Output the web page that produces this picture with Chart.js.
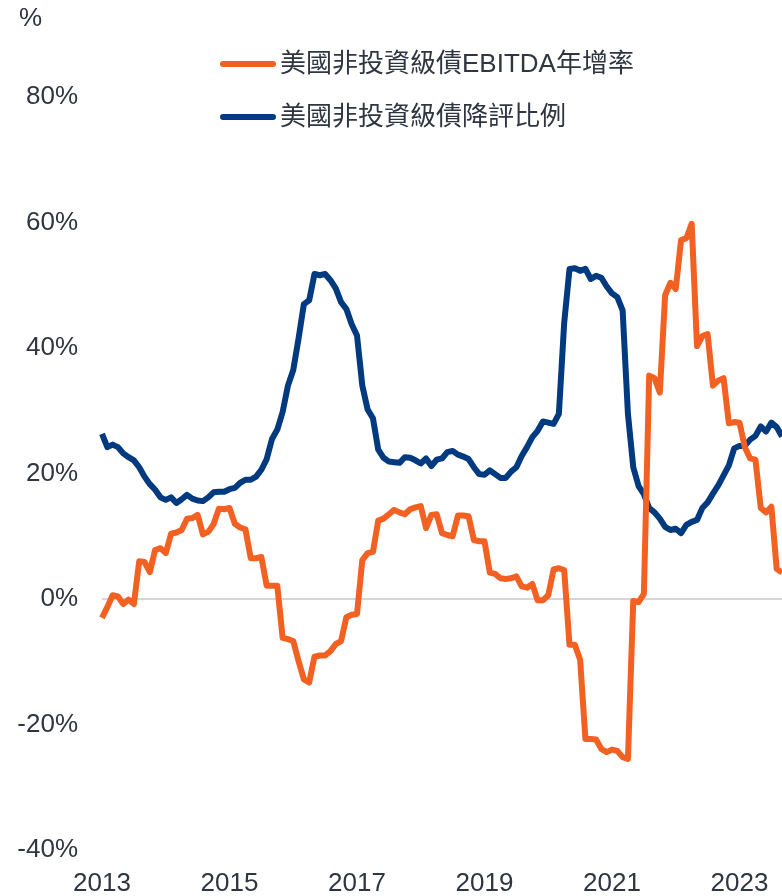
<!DOCTYPE html>
<html>
<head>
<meta charset="utf-8">
<script src="https://cdn.jsdelivr.net/npm/chart.js@4/dist/chart.umd.min.js"></script>
<style>
    html, body { margin: 0; padding: 0; background: #ffffff; }
    #wrap { width: 782px; height: 896px; }
</style>
</head>
<body>
<div id="wrap"><canvas id="ratioChart" width="782" height="896"></canvas></div>
<script>
// Monthly series, Jan 2013 - Sep 2023
const startYear = 2013;
const monthCount = 129;
const yearTicks = ['2013', '2015', '2017', '2019', '2021', '2023'];
const seriesNames = ['美國非投資級債EBITDA年增率', '美國非投資級債降評比例'];
const seriesColors = ['#f26122', '#023a80'];

const months = [];
for (let i = 0; i < monthCount; i++) {
    const y = startYear + Math.floor(i / 12);
    const m = (i % 12) + 1;
    months.push(y + '-' + (m < 10 ? '0' + m : m));
}

const ebitdaGrowth = [
    -3.0, -1.3, 0.6, 0.4, -0.8, -0.1, -0.8, 6.0, 5.9, 4.3, 7.8, 8.1,
    7.3, 10.4, 10.6, 11.0, 12.8, 12.9, 13.4, 10.3, 10.7, 11.9, 14.4, 14.3,
    14.5, 12.0, 11.4, 11.1, 6.5, 6.5, 6.7, 2.1, 2.1, 2.1, -6.2, -6.4,
    -6.7, -9.9, -12.8, -13.3, -9.2, -9.0, -9.0, -8.3, -7.2, -6.7, -2.9, -2.5,
    -2.4, 6.2, 7.3, 7.5, 12.5, 12.8, 13.5, 14.2, 13.8, 13.5, 14.3, 14.6,
    14.8, 11.3, 13.4, 13.5, 10.5, 10.2, 10.0, 13.3, 13.3, 13.2, 9.4, 9.2,
    9.2, 4.2, 4.0, 3.3, 3.2, 3.3, 3.6, 2.0, 1.8, 2.4, -0.2, -0.2,
    0.6, 4.7, 4.9, 4.6, -7.3, -7.3, -9.7, -22.3, -22.3, -22.4, -23.9, -24.4,
    -24.0, -24.2, -25.2, -25.5, -0.3, -0.5, 0.8, 35.6, 35.2, 32.9, 48.4, 50.4,
    49.4, 57.2, 57.5, 59.8, 40.3, 41.9, 42.2, 34.0, 34.8, 35.2, 28.0, 28.2,
    28.1, 24.2, 22.4, 22.2, 14.5, 13.8, 14.7, 4.8, 4.2
];

const downgradeRatio = [
    26.3, 24.2, 24.6, 24.2, 23.2, 22.6, 22.1, 21.0, 19.5, 18.3, 17.4, 16.2,
    15.8, 16.2, 15.3, 15.9, 16.6, 16.0, 15.7, 15.6, 16.2, 17.0, 17.1, 17.1,
    17.5, 17.7, 18.5, 19.0, 19.0, 19.5, 20.6, 22.3, 25.5, 27.0, 29.8, 34.0,
    36.5, 41.5, 47.0, 47.6, 51.8, 51.6, 51.8, 50.8, 49.5, 47.3, 46.2, 43.8,
    42.0, 34.0, 30.2, 28.8, 23.8, 22.5, 21.9, 21.8, 21.7, 22.6, 22.5, 22.1,
    21.6, 22.4, 21.2, 22.2, 22.4, 23.4, 23.6, 23.0, 22.7, 22.3, 21.0, 19.9,
    19.8, 20.5, 19.9, 19.3, 19.3, 20.3, 21.0, 22.8, 24.2, 25.8, 26.8, 28.3,
    28.1, 27.9, 29.5, 44.0, 52.6, 52.7, 52.3, 52.6, 51.0, 51.5, 51.2, 49.8,
    48.7, 48.1, 46.0, 29.5, 21.0, 18.0, 16.7, 14.5, 13.8, 12.8, 11.5, 11.0,
    11.2, 10.5, 11.8, 12.3, 12.6, 14.5, 15.4, 16.8, 18.1, 19.7, 21.3, 24.0,
    24.4, 24.4, 25.4, 26.0, 27.5, 26.7, 28.1, 27.4, 25.9
];

const textColor = '#2f3541';
const fontFamily = '"Liberation Sans", Arial, "Noto Sans CJK TC", sans-serif';

Chart.defaults.font.family = fontFamily;
Chart.defaults.font.size = 26;
Chart.defaults.color = textColor;

// "%" unit label and the two-row legend drawn straight on the canvas
const chartDecor = {
    id: 'chartDecor',
    afterDraw(chart) {
        const ctx = chart.ctx;
        ctx.save();
        ctx.font = '26px ' + fontFamily;
        ctx.fillStyle = textColor;
        ctx.textBaseline = 'middle';
        ctx.textAlign = 'left';
        ctx.fillText('%', 19, 19);

        const rows = [64, 117];
        chart.data.datasets.forEach((ds, i) => {
            const y = rows[i];
            ctx.strokeStyle = ds.borderColor;
            ctx.lineWidth = 6;
            ctx.lineCap = 'round';
            ctx.beginPath();
            ctx.moveTo(223, y);
            ctx.lineTo(273, y);
            ctx.stroke();
            ctx.fillStyle = textColor;
            ctx.fillText(ds.label, 280, y + 1);
        });
        ctx.restore();
    }
};

const ctx = document.getElementById('ratioChart').getContext('2d');
new Chart(ctx, {
    type: 'line',
    data: {
        labels: months,
        datasets: [
            {
                label: seriesNames[0],
                data: ebitdaGrowth,
                borderColor: seriesColors[0],
                backgroundColor: seriesColors[0],
                borderWidth: 6,
                borderJoinStyle: 'round',
                pointRadius: 0,
                tension: 0
            },
            {
                label: seriesNames[1],
                data: downgradeRatio,
                borderColor: seriesColors[1],
                backgroundColor: seriesColors[1],
                borderWidth: 6,
                borderJoinStyle: 'round',
                pointRadius: 0,
                tension: 0
            }
        ]
    },
    options: {
        responsive: false,
        animation: false,
        devicePixelRatio: 1,
        layout: {
            padding: { top: 97, left: 0, right: 0, bottom: 0 }
        },
        scales: {
            x: {
                type: 'category',
                offset: false,
                grid: { display: false, drawTicks: false },
                border: { display: false },
                afterFit: function (scale) {
                    // plot runs right up to the canvas edge
                    scale.height = 46;
                    scale.paddingLeft = 0;
                    scale.paddingRight = 0;
                },
                ticks: {
                    autoSkip: false,
                    maxRotation: 0,
                    padding: 18,
                    callback: function (value, index) {
                        const label = months[index];
                        const year = label.slice(0, 4);
                        if (label.slice(5) === '01' && yearTicks.includes(year)) {
                            return year;
                        }
                        return '';
                    }
                }
            },
            y: {
                min: -40,
                max: 80,
                grid: {
                    drawTicks: false,
                    lineWidth: 2,
                    color: function (c) {
                        return c.tick && c.tick.value === 0 ? '#d6d6d6' : 'rgba(0,0,0,0)';
                    }
                },
                border: { display: false },
                afterFit: function (scale) { scale.width = 102; },
                ticks: {
                    stepSize: 20,
                    padding: 24,
                    callback: function (value) { return value + '%'; }
                }
            }
        },
        plugins: {
            legend: { display: false },
            tooltip: { enabled: false },
            title: { display: false }
        }
    },
    plugins: [chartDecor]
});
</script>
</body>
</html>
